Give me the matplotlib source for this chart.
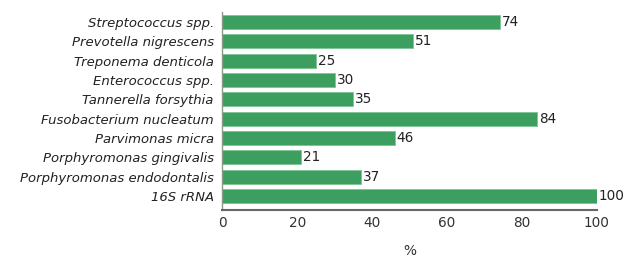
import matplotlib
matplotlib.use("Agg")
import matplotlib.pyplot as plt

# data, top to bottom as in the chart
species = [
    "Streptococcus spp.",
    "Prevotella nigrescens",
    "Treponema denticola",
    "Enterococcus spp.",
    "Tannerella forsythia",
    "Fusobacterium nucleatum",
    "Parvimonas micra",
    "Porphyromonas gingivalis",
    "Porphyromonas endodontalis",
    "16S rRNA",
]
percent = [74, 51, 25, 30, 35, 84, 46, 21, 37, 100]
x_ticks = [0, 20, 40, 60, 80, 100]

bar_color = "#3d9f5f"
pos = list(range(len(species)))[::-1]

fig = plt.figure(figsize=(6.44, 2.70), dpi=100)
ax = fig.add_axes([0.345, 0.222, 0.582, 0.734])

ax.barh(pos, percent, height=0.72, color=bar_color, edgecolor="#7cc496", linewidth=0.6)

for p, v in zip(pos, percent):
    ax.text(v + 0.5, p, str(v), va="center", ha="left", fontsize=9.8, color="#222222")

ax.set_yticks(pos)
ax.set_yticklabels(species, fontstyle="italic", fontsize=9.5, color="#222222")
ax.set_xticks(x_ticks)
ax.set_xticklabels([str(t) for t in x_ticks], fontsize=9.8, color="#333333")
ax.set_xlim(0, 100)
ax.set_ylim(-0.72, 9.52)
ax.tick_params(axis="both", length=0)
ax.tick_params(axis="y", pad=6)
ax.tick_params(axis="x", pad=4)

for side in ["top", "right"]:
    ax.spines[side].set_visible(False)
ax.spines["left"].set_color("#8a9a8a")
ax.spines["left"].set_linewidth(1.0)
ax.spines["bottom"].set_color("#666666")
ax.spines["bottom"].set_linewidth(1.5)

ax.set_xlabel("%", fontsize=9.8, color="#333333", labelpad=10)

plt.savefig("out.png", dpi=100)
